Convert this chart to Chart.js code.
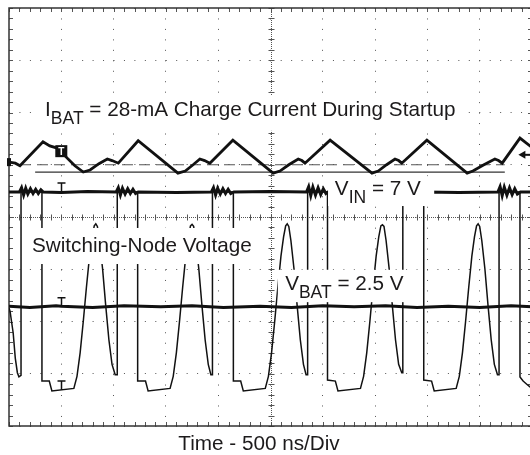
<!DOCTYPE html>
<html>
<head>
<meta charset="utf-8">
<script src="https://cdn.jsdelivr.net/npm/chart.js@4.4.0/dist/chart.umd.min.js"></script>
<style>
  html, body { margin: 0; padding: 0; background: #fff; overflow: hidden; }
</style>
</head>
<body>
<canvas id="scope" width="540" height="455"></canvas>
<script>
// all values in screen divisions (x: 0..10 div at 500 ns/div, y: 0..8 div)
const ibat = [[0.00,5.05],[0.12,5.03],[0.21,4.98],[0.65,5.44],[0.78,5.36],[0.92,5.32],[1.07,5.17],[1.26,4.98],[1.42,4.86],[1.55,4.90],[1.72,5.02],[1.88,5.11],[1.97,5.08],[2.09,5.03],[2.47,5.46],[3.23,4.84],[3.37,4.88],[3.52,5.00],[3.65,5.11],[3.74,5.08],[3.84,5.03],[4.28,5.47],[5.05,4.84],[5.18,4.88],[5.35,5.00],[5.53,5.11],[5.60,5.08],[5.66,5.03],[6.14,5.47],[6.94,4.84],[7.06,4.88],[7.22,5.00],[7.38,5.11],[7.45,5.08],[7.51,5.03],[7.99,5.47],[8.76,4.84],[8.87,4.88],[9.08,5.00],[9.29,5.11],[9.36,5.08],[9.43,5.03],[9.77,5.51],[10.00,5.33]];
const avgDashed = [[0.21,5.00],[9.48,5.00]];
const avgSolid = [[0.50,4.86],[9.48,4.86]];

const vin = [[0.00,4.48],[0.20,4.48],[0.24,4.56],[0.28,4.42],[0.32,4.55],[0.36,4.44],[0.41,4.54],[0.46,4.45],[0.51,4.53],[0.56,4.45],[0.61,4.52],[0.65,4.48],[1.00,4.47],[1.50,4.49],[2.05,4.48],[2.09,4.56],[2.13,4.42],[2.17,4.55],[2.22,4.44],[2.27,4.54],[2.32,4.45],[2.37,4.53],[2.42,4.45],[2.47,4.48],[3.20,4.47],[3.87,4.48],[3.91,4.56],[3.95,4.42],[3.99,4.55],[4.04,4.44],[4.09,4.54],[4.14,4.45],[4.19,4.53],[4.24,4.45],[4.30,4.48],[5.00,4.49],[5.69,4.48],[5.73,4.58],[5.77,4.41],[5.81,4.57],[5.86,4.42],[5.91,4.56],[5.96,4.43],[6.01,4.54],[6.06,4.45],[6.10,4.48],[7.51,4.48],[7.55,4.56],[7.59,4.42],[7.63,4.55],[7.68,4.44],[7.73,4.54],[7.78,4.45],[7.83,4.53],[7.88,4.45],[7.94,4.48],[8.60,4.47],[9.35,4.48],[9.39,4.58],[9.43,4.41],[9.47,4.57],[9.52,4.42],[9.57,4.56],[9.62,4.43],[9.67,4.54],[9.72,4.44],[9.78,4.48],[10.00,4.48]];

const vbat = [[0.00,2.29],[0.40,2.27],[0.90,2.30],[1.00,2.29],[1.60,2.27],[2.20,2.30],[2.90,2.28],[3.50,2.30],[4.10,2.27],[4.80,2.29],[5.40,2.27],[6.00,2.30],[6.60,2.28],[7.20,2.30],[7.80,2.27],[8.40,2.29],[9.00,2.27],[9.60,2.30],[10.00,2.28]];

const switchNode = [
  [0.00,2.26],[0.02,2.20],[0.08,1.78],[0.12,1.30],[0.16,1.02],[0.19,0.94],[0.23,0.97],
  [0.23,4.48],[0.63,4.48],[0.63,0.86],[0.77,0.86],[0.82,0.67],[1.24,0.72],[1.30,0.95],[1.36,1.40],[1.42,2.00],[1.48,2.65],[1.54,3.25],[1.59,3.62],[1.63,3.83],[1.66,3.87],[1.69,3.82],[1.73,3.55],[1.79,3.00],[1.85,2.30],[1.91,1.65],[1.97,1.18],[2.03,0.98],[2.07,0.98],
  [2.07,4.48],[2.46,4.48],[2.46,0.86],[2.61,0.86],[2.66,0.67],[3.08,0.72],[3.14,0.95],[3.20,1.40],[3.26,2.00],[3.32,2.65],[3.38,3.25],[3.43,3.62],[3.47,3.83],[3.50,3.86],[3.53,3.82],[3.57,3.55],[3.63,3.00],[3.69,2.30],[3.75,1.65],[3.81,1.18],[3.86,0.98],[3.89,0.98],
  [3.89,4.48],[4.29,4.48],[4.29,0.86],[4.43,0.86],[4.48,0.67],[4.90,0.72],[4.96,0.95],[5.02,1.40],[5.08,2.00],[5.14,2.65],[5.20,3.25],[5.25,3.62],[5.29,3.83],[5.32,3.87],[5.35,3.82],[5.39,3.55],[5.45,3.00],[5.51,2.30],[5.57,1.65],[5.63,1.18],[5.68,0.98],[5.71,0.98],
  [5.71,4.48],[6.09,4.48],[6.09,0.88],[6.24,0.86],[6.29,0.67],[6.72,0.72],[6.78,0.95],[6.84,1.40],[6.90,2.00],[6.96,2.65],[7.02,3.25],[7.07,3.62],[7.11,3.83],[7.14,3.85],[7.17,3.82],[7.21,3.55],[7.27,3.00],[7.33,2.30],[7.39,1.65],[7.45,1.18],[7.51,1.02],[7.53,1.02],
  [7.53,4.48],[7.93,4.48],[7.93,0.88],[8.08,0.86],[8.13,0.67],[8.55,0.72],[8.61,0.95],[8.67,1.40],[8.73,2.00],[8.79,2.65],[8.85,3.25],[8.90,3.62],[8.94,3.83],[8.97,3.87],[9.00,3.82],[9.04,3.55],[9.10,3.00],[9.16,2.30],[9.22,1.65],[9.28,1.18],[9.34,0.98],[9.37,0.98],
  [9.37,4.48],[9.77,4.48],[9.77,0.94],[9.83,0.86],[9.90,0.80],[9.96,0.75],[10.00,0.73]
];

const xTitle = 'Time - 500 ns/Div';
const labelIbat = ['I', 'BAT', ' = 28-mA Charge Current During Startup'];
const labelVin = ['V', 'IN', ' = 7 V'];
const labelVbat = ['V', 'BAT', ' = 2.5 V'];
const labelSw = ['Switching-Node Voltage', '', ''];

const FONT = '"Liberation Sans", Arial, Helvetica, sans-serif';
const INK = '#1c1a1b';

const toXY = (arr) => arr.map(p => ({x: p[0], y: p[1]}));

// scope graticule: frame, minor ticks, dense centre cross
const graticule = {
  id: 'graticule',
  beforeDatasetsDraw(chart) {
    const {ctx, chartArea: a, scales: {x, y}} = chart;
    const cx = Math.round(x.getPixelForValue(5)) + 0.5;
    const cy = Math.round(y.getPixelForValue(4)) + 0.5;
    ctx.save();
    ctx.strokeStyle = '#555';
    ctx.lineWidth = 1;
    ctx.setLineDash([1, 1]);
    ctx.beginPath();
    ctx.moveTo(cx, a.top); ctx.lineTo(cx, a.bottom);
    ctx.moveTo(a.left, cy); ctx.lineTo(a.right, cy);
    ctx.stroke();
    ctx.setLineDash([]);
    ctx.beginPath();
    for (let i = 0; i <= 50; i++) {
      const px = Math.round(x.getPixelForValue(i / 5)) + 0.5;
      ctx.moveTo(px, a.top); ctx.lineTo(px, a.top + 4);
      ctx.moveTo(px, a.bottom); ctx.lineTo(px, a.bottom - 4);
      ctx.moveTo(px, cy - 3); ctx.lineTo(px, cy + 3);
    }
    for (let i = 0; i <= 40; i++) {
      const py = Math.round(y.getPixelForValue(i / 5)) + 0.5;
      ctx.moveTo(a.left, py); ctx.lineTo(a.left + 4, py);
      ctx.moveTo(a.right, py); ctx.lineTo(a.right - 4, py);
      ctx.moveTo(cx - 3, py); ctx.lineTo(cx + 3, py);
    }
    ctx.stroke();
    ctx.strokeStyle = '#333';
    ctx.lineWidth = 1.5;
    ctx.strokeRect(a.left, a.top, a.right - a.left, a.bottom - a.top);
    ctx.restore();
  }
};

// white label boxes over the traces, scope markers, axis caption
const annotations = {
  id: 'annotations',
  afterDatasetsDraw(chart, args, opts) {
    const {ctx, chartArea: a, scales: {x, y}} = chart;
    ctx.save();
    opts.labels.forEach(l => {
      const x0 = x.getPixelForValue(l.box[0]), x1 = x.getPixelForValue(l.box[2]);
      const y0 = y.getPixelForValue(l.box[1]), y1 = y.getPixelForValue(l.box[3]);
      ctx.fillStyle = '#fff';
      ctx.fillRect(x0, y0, x1 - x0, y1 - y0);
      let tx = x.getPixelForValue(l.x);
      const ty = y.getPixelForValue(l.y);
      ctx.fillStyle = INK;
      ctx.textBaseline = 'alphabetic';
      ctx.textAlign = 'left';
      ctx.font = '20.7px ' + FONT;
      ctx.fillText(l.text[0], tx, ty);
      tx += ctx.measureText(l.text[0]).width;
      ctx.font = '17.5px ' + FONT;
      ctx.fillText(l.text[1], tx, ty + 8);
      tx += ctx.measureText(l.text[1]).width;
      ctx.font = '20.7px ' + FONT;
      ctx.fillText(l.text[2], tx, ty);
    });

    // "T" cursor marks sitting on the traces
    ctx.strokeStyle = '#111';
    ctx.lineWidth = 1.5;
    ctx.beginPath();
    opts.tMarks.forEach(m => {
      const px = Math.round(x.getPixelForValue(m[0])) + 0.5;
      const py = y.getPixelForValue(m[1]);
      ctx.moveTo(px - 4, py - 9); ctx.lineTo(px + 4, py - 9);
      ctx.moveTo(px, py - 9); ctx.lineTo(px, py);
    });
    ctx.stroke();

    // trigger box on the current trace
    const bx = x.getPixelForValue(opts.trigBox[0]), by = y.getPixelForValue(opts.trigBox[1]);
    ctx.fillStyle = '#111';
    ctx.fillRect(bx - 6, by - 6, 12, 12);
    ctx.fillStyle = '#fff';
    ctx.font = 'bold 10px ' + FONT;
    ctx.textAlign = 'center';
    ctx.textBaseline = 'middle';
    ctx.fillText('T', bx, by + 1);

    // channel ground mark on the left edge
    const gy = y.getPixelForValue(opts.chanMark);
    ctx.fillStyle = '#111';
    ctx.fillRect(a.left - 2, gy - 4, 4, 8);

    // trigger level arrow on the right
    const ax = x.getPixelForValue(opts.arrow[0]), ay = y.getPixelForValue(opts.arrow[1]);
    ctx.beginPath();
    ctx.moveTo(ax, ay); ctx.lineTo(ax + 7, ay - 4); ctx.lineTo(ax + 7, ay + 4); ctx.closePath();
    ctx.fill();
    ctx.fillRect(ax + 6, ay - 1, 6, 2);

    // axis caption
    ctx.fillStyle = INK;
    ctx.font = '20.7px ' + FONT;
    ctx.textAlign = 'center';
    ctx.textBaseline = 'alphabetic';
    ctx.fillText(xTitle, x.getPixelForValue(opts.titleAt), a.bottom + 24);
    ctx.restore();
  }
};

const trace = (data, width, extra) => Object.assign({
  data: toXY(data),
  borderColor: '#111',
  borderWidth: width,
  pointRadius: 0,
  tension: 0,
  fill: false
}, extra || {});

new Chart(document.getElementById('scope'), {
  type: 'line',
  data: {
    datasets: [
      trace(ibat, 2.8),
      trace(avgDashed, 1.2, {borderColor: '#555', borderDash: [11, 6]}),
      trace(avgSolid, 1.3, {borderColor: '#333'}),
      trace(vin, 3),
      trace(vbat, 3),
      trace(switchNode, 1.5)
    ]
  },
  options: {
    responsive: false,
    animation: false,
    events: [],
    layout: { padding: { left: 9, top: 8, right: 8, bottom: 29 } },
    scales: {
      x: {
        type: 'linear', min: 0, max: 10,
        ticks: { display: false, stepSize: 1 },
        grid: { color: '#555', lineWidth: 1, drawTicks: false },
        border: { display: false, dash: [1, 9.46] }
      },
      y: {
        type: 'linear', min: 0, max: 8,
        ticks: { display: false, stepSize: 1 },
        grid: { color: '#555', lineWidth: 1, drawTicks: false },
        border: { display: false, dash: [1, 9.45] }
      }
    },
    plugins: {
      legend: { display: false },
      tooltip: { enabled: false },
      annotations: {
        labels: [
          { text: labelIbat, x: 0.69, y: 5.93, box: [0.52, 6.33, 8.72, 5.65] },
          { text: labelVin, x: 6.23, y: 4.43, box: [6.10, 4.78, 8.13, 4.21] },
          { text: labelVbat, x: 5.28, y: 2.61, box: [5.14, 2.99, 7.86, 2.37] },
          { text: labelSw, x: 0.44, y: 3.33, box: [0.34, 3.79, 4.76, 3.10] }
        ],
        tMarks: [[1.0, 4.48], [1.0, 2.28], [1.0, 0.69]],
        trigBox: [1.0, 5.26],
        chanMark: 5.05,
        arrow: [9.74, 5.19],
        titleAt: 4.78
      }
    }
  },
  plugins: [graticule, annotations]
});
</script>
</body>
</html>
